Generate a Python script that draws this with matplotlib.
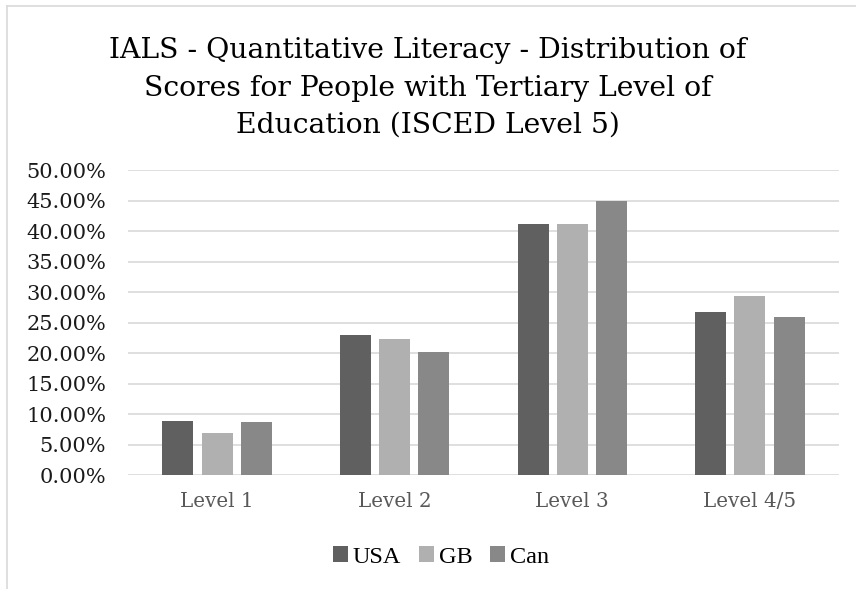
import matplotlib.pyplot as plt
import numpy as np
from matplotlib.lines import Line2D
from matplotlib.ticker import FuncFormatter

levels = ["Level 1", "Level 2", "Level 3", "Level 4/5"]
countries = ["USA", "GB", "Can"]
usa = [0.0885, 0.2305, 0.412, 0.267]
gb = [0.0688, 0.223, 0.4115, 0.294]
can = [0.0869, 0.2016, 0.450, 0.2595]
colors = ["#606060", "#b0b0b0", "#888888"]

fig = plt.figure(figsize=(8.56, 5.89), dpi=100)
ax = fig.add_axes([128.3 / 856, 1 - 475.3 / 589, 710.4 / 856, 305 / 589])

x = np.arange(len(levels))
w = 0.175
step = 0.221
for i, (vals, c) in enumerate(zip([usa, gb, can], colors)):
    ax.bar(x + (i - 1) * step, vals, w, color=c, label=countries[i], zorder=3)

ax.set_xlim(-0.5, len(levels) - 0.5)
ax.set_ylim(0, 0.5)
ax.set_yticks(np.arange(0, 0.501, 0.05))
ax.yaxis.set_major_formatter(FuncFormatter(lambda v, p: f"{v * 100:.2f}%"))
ax.set_xticks(x)
ax.set_xticklabels(levels)
ax.grid(axis="y", color="#d9d9d9", linewidth=1.2, zorder=0)
ax.set_axisbelow(True)
for s in ax.spines.values():
    s.set_visible(False)
ax.tick_params(axis="both", length=0)
ax.tick_params(axis="y", pad=16, labelsize=15, labelcolor="#1a1a1a")
ax.tick_params(axis="x", pad=12, labelsize=14.3, labelcolor="#595959")
for t in ax.get_yticklabels() + ax.get_xticklabels():
    t.set_fontfamily("DejaVu Serif")

fig.text(428 / 856, 1 - 37 / 589,
         "IALS - Quantitative Literacy - Distribution of\n"
         "Scores for People with Tertiary Level of\n"
         "Education (ISCED Level 5)",
         ha="center", va="top", fontsize=20.3, family="DejaVu Serif",
         linespacing=1.5, color="black")

leg = fig.legend(loc="center", bbox_to_anchor=(441 / 856, 1 - 557 / 589),
                 ncol=3, frameon=False, handlelength=0.6, handleheight=0.6,
                 handletextpad=0.2, columnspacing=0.75,
                 prop={"family": "Liberation Serif", "size": 17.5})

fig.add_artist(Line2D([7 / 856, 7 / 856], [0, 1 - 6 / 589], transform=fig.transFigure,
                      color="#d9d9d9", linewidth=1.2))
fig.add_artist(Line2D([7 / 856, 1], [1 - 6 / 589, 1 - 6 / 589], transform=fig.transFigure,
                      color="#d9d9d9", linewidth=1.2))

fig.savefig("out.png", dpi=100)
